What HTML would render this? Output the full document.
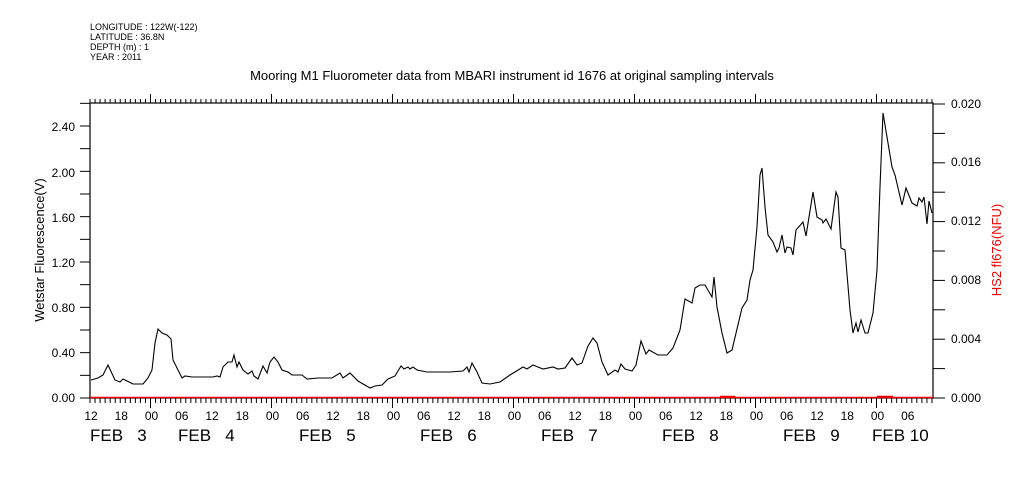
<!DOCTYPE html>
<html><head><meta charset="utf-8"><style>
html,body{margin:0;padding:0;background:#fff;}
svg{display:block;font-family:"Liberation Sans",sans-serif;}
.pre{white-space:pre;}
</style></head><body>
<svg width="1009" height="504" viewBox="0 0 1009 504" xmlns="http://www.w3.org/2000/svg">
<g font-size="9" fill="#000">
<text x="90" y="30">LONGITUDE : 122W(-122)</text>
<text x="90" y="40">LATITUDE : 36.8N</text>
<text x="90" y="50">DEPTH (m) : 1</text>
<text x="90" y="60">YEAR : 2011</text>
</g>
<text x="512" y="80" font-size="13" text-anchor="middle">Mooring M1 Fluorometer data from MBARI instrument id 1676 at original sampling intervals</text>
<rect x="90" y="103" width="843" height="295" fill="none" stroke="#000" stroke-width="1.2"/>
<g id="ticks" stroke="#000" stroke-width="1"></g>
<g font-size="12" text-anchor="end">
<text x="75" y="402">0.00</text><text x="75" y="357">0.40</text><text x="75" y="312">0.80</text>
<text x="75" y="267">1.20</text><text x="75" y="222">1.60</text><text x="75" y="177">2.00</text><text x="75" y="131">2.40</text>
</g>
<g font-size="12">
<text x="951" y="402">0.000</text><text x="951" y="343">0.004</text><text x="951" y="284">0.008</text>
<text x="951" y="225">0.012</text><text x="951" y="166">0.016</text><text x="951" y="108">0.020</text>
</g>
<text transform="translate(44,250) rotate(-90)" font-size="13" text-anchor="middle">Wetstar Fluorescence(V)</text>
<text transform="translate(1001,250) rotate(-90)" font-size="13" text-anchor="middle" fill="#e00">HS2 fl676(NFU)</text>
<g font-size="12" text-anchor="middle" id="hl"></g>
<g font-size="17" class="pre">
<text x="90" y="441" xml:space="preserve">FEB   3</text><text x="178" y="441" xml:space="preserve">FEB   4</text><text x="299" y="441" xml:space="preserve">FEB   5</text>
<text x="420" y="441" xml:space="preserve">FEB   6</text><text x="541" y="441" xml:space="preserve">FEB   7</text><text x="662" y="441" xml:space="preserve">FEB   8</text>
<text x="783" y="441" xml:space="preserve">FEB   9</text><text x="872" y="441">FEB 10</text>
</g>
<line x1="90" y1="397.5" x2="933" y2="397.5" stroke="#e00" stroke-width="1.5"/>
<line x1="720" y1="396.5" x2="735" y2="396.5" stroke="#e00" stroke-width="1.5"/>
<line x1="877" y1="396.5" x2="893" y2="396.5" stroke="#e00" stroke-width="1.5"/>
<polyline fill="none" stroke="#000" stroke-width="1.1" points="91,380 98,378 103,375 108,365 115,380 120,382 123,379 127,381 133,384 143,384 148,378 152,370 155,343 158,329 162,333 167,335 171,339 173,360 182,378 185,376 192,377 213,377 217,376 220,377 223,367 228,362 232,362 234,355 237,367 239,362 243,370 248,374 252,371 254,376 258,379 263,366 267,373 270,362 274,357 278,362 282,370 288,372 292,375 302,375 307,379 318,378 332,378 340,373 343,378 350,373 358,381 370,388 375,386 382,385 388,379 395,376 401,366 404,369 408,367 410,369 413,367 417,370 427,372 450,372 463,371 467,367 469,372 472,363 477,372 482,383 490,384 500,382 510,375 523,367 527,369 533,365 543,369 553,367 558,369 565,368 572,358 577,365 582,363 588,346 593,338 597,343 602,362 608,375 615,370 618,372 621,364 625,369 632,371 636,365 641,341 646,354 649,350 658,355 667,355 673,348 680,330 685,299 692,303 695,288 700,285 705,285 712,297 714,277 717,307 722,333 727,353 732,350 742,308 747,300 750,280 753,270 757,227 760,175 762,168 765,207 768,235 773,242 777,252 779,248 782,235 785,253 787,247 791,248 793,255 796,230 803,222 806,236 813,192 817,217 822,220 823,223 826,219 831,229 836,192 838,197 841,248 845,250 850,310 853,333 856,323 858,332 861,320 865,333 868,333 873,313 877,270 880,187 883,113 888,143 892,167 895,175 902,205 906,188 912,203 917,206 919,198 922,202 924,197 927,224 929,201 932,213"/>
<script>
var ns="http://www.w3.org/2000/svg",g=document.getElementById('ticks'),hl=document.getElementById('hl');
function L(a,b,c,d){var l=document.createElementNS(ns,'line');l.setAttribute('x1',a);l.setAttribute('y1',b);l.setAttribute('x2',c);l.setAttribute('y2',d);g.appendChild(l);}
var ph=121/24, x0=90;
for(var h=0;;h++){var x=x0+h*ph; if(x>933)break; var hr=(12+h)%24; var maj=(hr==0);
 L(x,103,x,maj?94:99); L(x,398,x,maj?408:403);
 if(hr%6==0){var t=document.createElementNS(ns,'text');t.setAttribute('x',x+1);t.setAttribute('y',420);t.textContent=(hr<10?'0':'')+hr;hl.appendChild(t);}
}
for(var i=0;i<=13;i++){var y=398-i*0.2*(272/2.4); if(y<103)break; L(90,y,80,y);}
for(var i=0;i<=10;i++){var y=398-i*29.4; L(933,y,945,y);}
</script>
</svg>
</body></html>
